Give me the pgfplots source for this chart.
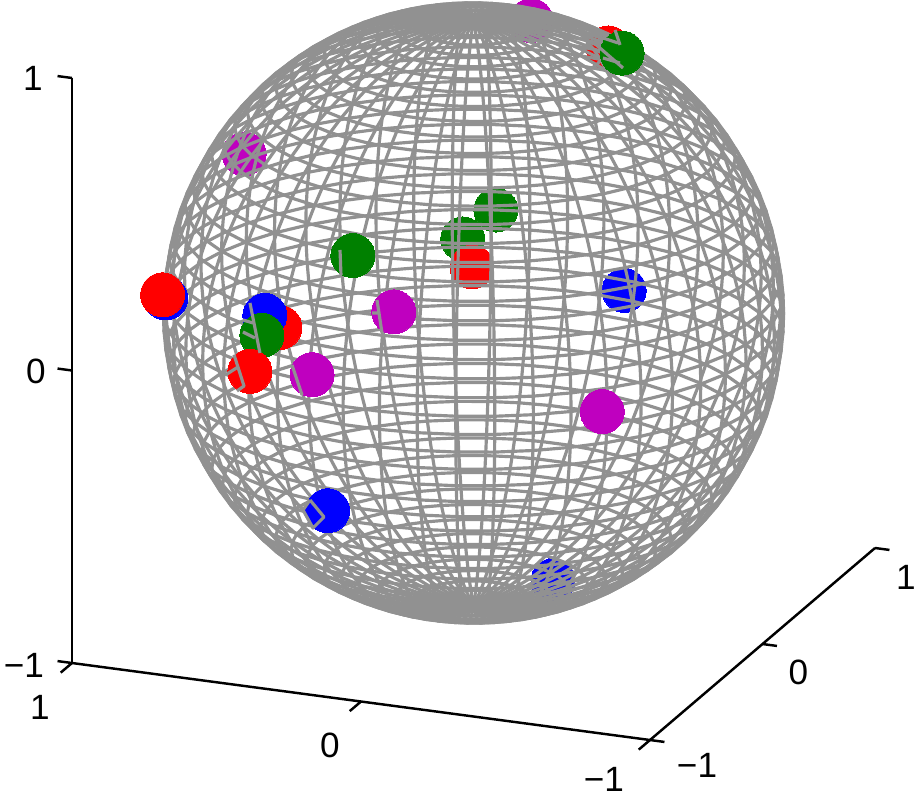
\documentclass[border=0pt]{standalone}
\usepackage{fontspec}
\setmainfont{Liberation Sans}
\usepackage{pgfplots}
\usepackage{pgfplotstable}
\pgfplotsset{compat=1.18}
\definecolor{wire}{RGB}{145,145,145}
\definecolor{mgreen}{RGB}{0,128,0}
\definecolor{mpurple}{RGB}{191,0,191}
% meridian profile: radius and height at latitudes -90, -86.4, ... 90
\pgfplotstableread{
r z
0 -1
.0628 -.9980
.1253 -.9921
.1874 -.9823
.2487 -.9686
.3090 -.9511
.3681 -.9298
.4258 -.9048
.4818 -.8763
.5358 -.8443
.5878 -.8090
.6374 -.7705
.6845 -.7290
.7290 -.6845
.7705 -.6374
.8090 -.5878
.8443 -.5358
.8763 -.4818
.9048 -.4258
.9298 -.3681
.9511 -.3090
.9686 -.2487
.9823 -.1874
.9921 -.1253
.9980 -.0628
1 0
.9980 .0628
.9921 .1253
.9823 .1874
.9686 .2487
.9511 .3090
.9298 .3681
.9048 .4258
.8763 .4818
.8443 .5358
.8090 .5878
.7705 .6374
.7290 .6845
.6845 .7290
.6374 .7705
.5878 .8090
.5358 .8443
.4818 .8763
.4258 .9048
.3681 .9298
.3090 .9511
.2487 .9686
.1874 .9823
.1253 .9921
.0628 .9980
0 1
}\profile
% unit circle at longitudes 0, 7.2, ... 360
\pgfplotstableread{
c s
1 0
.9921 .1253
.9686 .2487
.9298 .3681
.8763 .4818
.8090 .5878
.7290 .6845
.6374 .7705
.5358 .8443
.4258 .9048
.3090 .9511
.1874 .9823
.0628 .9980
-.0628 .9980
-.1874 .9823
-.3090 .9511
-.4258 .9048
-.5358 .8443
-.6374 .7705
-.7290 .6845
-.8090 .5878
-.8763 .4818
-.9298 .3681
-.9686 .2487
-.9921 .1253
-1 0
-.9921 -.1253
-.9686 -.2487
-.9298 -.3681
-.8763 -.4818
-.8090 -.5878
-.7290 -.6845
-.6374 -.7705
-.5358 -.8443
-.4258 -.9048
-.3090 -.9511
-.1874 -.9823
-.0628 -.9980
.0628 -.9980
.1874 -.9823
.3090 -.9511
.4258 -.9048
.5358 -.8443
.6374 -.7705
.7290 -.6845
.8090 -.5878
.8763 -.4818
.9298 -.3681
.9686 -.2487
.9921 -.1253
1 0
}\circletab
\newcommand\mer[2]{\addplot3[wirest] table[x expr={\thisrow{r}*(#1)},y expr={\thisrow{r}*(#2)},z=z]{\profile};}
\newcommand\lat[2]{\addplot3[wirest] table[x index=0,y index=1,z index=1,x expr={\thisrow{c}*(#1)},y expr={\thisrow{s}*(#1)},z expr={#2}]{\circletab};}
\newcommand\tick[6]{\addplot3[black,line width=0.7pt] coordinates {(#1,#2,#3) (#4,#5,#6)};}
\pgfplotsset{wirest/.style={wire,line width=0.9pt,no marks,line join=round},
 ball/.style={only marks,mark=*,mark size=2.2mm,color=#1,mark options={draw=#1,fill=#1,line width=0pt}},
 sph/.style={x={(-2.89cm,0.385cm)},y={(1.125cm,0.96cm)},z={(0cm,2.925cm)},
 xmin=-1,xmax=1,ymin=-1,ymax=1,zmin=-1,zmax=1,
 hide axis,clip=false,
 every node/.style={font=\fontsize{12}{14}\selectfont}}}
\begin{document}
\begin{tikzpicture}
% markers behind the sphere's wires
\begin{axis}[sph]
\addplot3[ball=mgreen] coordinates {(-.349,-.698,.627) (-.271,-.792,.549)};
\addplot3[ball=red] coordinates {(-.397,.178,.900) (-.316,-.825,.470)};
\addplot3[ball=blue] coordinates {(-.742,-.567,.361) (-.494,-.562,-.665)};
\addplot3[ball=mpurple] coordinates {(-.154,.116,.982) (.599,-.500,.629)};
\end{axis}
\begin{axis}[sph]
% meridians
\mer{1}{0}\mer{.9921}{.1253}\mer{.9686}{.2487}\mer{.9298}{.3681}\mer{.8763}{.4818}
\mer{.8090}{.5878}\mer{.7290}{.6845}\mer{.6374}{.7705}\mer{.5358}{.8443}\mer{.4258}{.9048}
\mer{.3090}{.9511}\mer{.1874}{.9823}\mer{.0628}{.9980}\mer{-.0628}{.9980}\mer{-.1874}{.9823}
\mer{-.3090}{.9511}\mer{-.4258}{.9048}\mer{-.5358}{.8443}\mer{-.6374}{.7705}\mer{-.7290}{.6845}
\mer{-.8090}{.5878}\mer{-.8763}{.4818}\mer{-.9298}{.3681}\mer{-.9686}{.2487}\mer{-.9921}{.1253}
\mer{-1}{0}\mer{-.9921}{-.1253}\mer{-.9686}{-.2487}\mer{-.9298}{-.3681}\mer{-.8763}{-.4818}
\mer{-.8090}{-.5878}\mer{-.7290}{-.6845}\mer{-.6374}{-.7705}\mer{-.5358}{-.8443}\mer{-.4258}{-.9048}
\mer{-.3090}{-.9511}\mer{-.1874}{-.9823}\mer{-.0628}{-.9980}\mer{.0628}{-.9980}\mer{.1874}{-.9823}
\mer{.3090}{-.9511}\mer{.4258}{-.9048}\mer{.5358}{-.8443}\mer{.6374}{-.7705}\mer{.7290}{-.6845}
\mer{.8090}{-.5878}\mer{.8763}{-.4818}\mer{.9298}{-.3681}\mer{.9686}{-.2487}\mer{.9921}{-.1253}
% latitude circles
\lat{.0628}{-.9980}\lat{.1253}{-.9921}\lat{.1874}{-.9823}\lat{.2487}{-.9686}\lat{.3090}{-.9511}
\lat{.3681}{-.9298}\lat{.4258}{-.9048}\lat{.4818}{-.8763}\lat{.5358}{-.8443}\lat{.5878}{-.8090}
\lat{.6374}{-.7705}\lat{.6845}{-.7290}\lat{.7290}{-.6845}\lat{.7705}{-.6374}\lat{.8090}{-.5878}
\lat{.8443}{-.5358}\lat{.8763}{-.4818}\lat{.9048}{-.4258}\lat{.9298}{-.3681}\lat{.9511}{-.3090}
\lat{.9686}{-.2487}\lat{.9823}{-.1874}\lat{.9921}{-.1253}\lat{.9980}{-.0628}\lat{1}{0}
\lat{.9980}{.0628}\lat{.9921}{.1253}\lat{.9823}{.1874}\lat{.9686}{.2487}\lat{.9511}{.3090}
\lat{.9298}{.3681}\lat{.9048}{.4258}\lat{.8763}{.4818}\lat{.8443}{.5358}\lat{.8090}{.5878}
\lat{.7705}{.6374}\lat{.7290}{.6845}\lat{.6845}{.7290}\lat{.6374}{.7705}\lat{.5878}{.8090}
\lat{.5358}{.8443}\lat{.4818}{.8763}\lat{.4258}{.9048}\lat{.3681}{.9298}\lat{.3090}{.9511}
\lat{.2487}{.9686}\lat{.1874}{.9823}\lat{.1253}{.9921}\lat{.0628}{.9980}
% markers in front
\addplot3[ball=red] coordinates {(.843,.444,-.306)};
\addplot3[ball=blue] coordinates {(.971,-.242,.003) (.879,.403,-.256) (.569,.165,-.805)};
\addplot3[ball=mgreen] coordinates {(-.259,.656,.707) (.694,.710,-.128) (.876,.369,-.313)};
\addplot3[ball=red] coordinates {(.941,-.346,.052) (.877,.265,-.402)};
\addplot3[ball=mpurple] coordinates {(.571,.758,-.320) (.745,.479,-.466) (-.133,.803,-.583)};
\end{axis}
\begin{axis}[sph]
% pieces of wire that pass in front of markers
\addplot3[wirest] coordinates {(.8287,0,-.2516) (.7941,0,-.3541) (.8183,0,-.3744)};
\addplot3[wirest] coordinates {(.8529,0,-.3208) (.8149,0,-.2919)};
\addplot3[wirest] coordinates {(.5657,0,-.7138) (.5173,0,-.7655) (.5554,0,-.8082) (.5900,0,-.7511) (.5657,0,-.7138)};
\addplot3[wirest] coordinates {(.7734,0,-.0676) (.7388,0,-.2340)};
\addplot3[wirest] coordinates {(.7976,0,-.1699) (.7561,0,-.1850)};
\addplot3[wirest] coordinates {(.7976,0,-.1289) (.7630,0,-.1346)};
\addplot3[wirest] coordinates {(.3339,0,.0005) (.3166,0,-.1100)};
\addplot3[wirest] coordinates {(.3512,0,-.0462) (.3304,0,-.0435)};
\addplot3[wirest] coordinates {(.6280,0,-.2604) (.5934,0,-.3585)};
\addplot3[wirest] coordinates {(.4619,0,.1546) (.4585,0,.0696)};
\addplot3[wirest] coordinates {(-.4481,0,.9991) (-.5,0,.9889)};
\addplot3[wirest] coordinates {(-.4135,0,.9809) (-.5173,0,.9057)};
\addplot3[wirest] coordinates {(-.4481,0,.9308) (-.5069,0,.9214)};
\addplot3[wirest] coordinates {(-.4896,0,1.0320) (-.5069,0,.9830)};
% axis lines and ticks
\tick{1}{-1}{-1}{-1}{-1}{-1}
\tick{-1}{-1}{-1}{-1}{1}{-1}
\tick{1}{-1}{-1}{1}{-1}{1}
\tick{1}{-1}{1}{1.05}{-1}{1}\tick{1}{-1}{0}{1.05}{-1}{0}\tick{1}{-1}{-1}{1.05}{-1}{-1}
\tick{1}{-1}{-1}{1}{-1.1}{-1}\tick{0}{-1}{-1}{0}{-1.1}{-1}\tick{-1}{-1}{-1}{-1}{-1.1}{-1}
\tick{-1}{-1}{-1}{-1.05}{-1}{-1}\tick{-1}{0}{-1}{-1.05}{0}{-1}\tick{-1}{1}{-1}{-1.05}{1}{-1}
% tick labels
\node[xshift=-3.9mm] at (axis cs:1,-1,1) {1};
\node[xshift=-3.6mm,yshift=-.1mm] at (axis cs:1,-1,0) {0};
\node[xshift=-4.8mm,yshift=-.2mm] at (axis cs:1,-1,-1) {−1};
\node[xshift=-3.2mm,yshift=-4.4mm] at (axis cs:1,-1,-1) {1};
\node[xshift=-3.1mm,yshift=-4.4mm] at (axis cs:0,-1,-1) {0};
\node[xshift=-4.6mm,yshift=-3.9mm] at (axis cs:-1,-1,-1) {−1};
\node[xshift=4.7mm,yshift=-2.5mm] at (axis cs:-1,-1,-1) {−1};
\node[xshift=3.6mm,yshift=-2.8mm] at (axis cs:-1,0,-1) {0};
\node[xshift=3.1mm,yshift=-2.9mm] at (axis cs:-1,1,-1) {1};
\coordinate (A) at (axis cs:1.6384,0,-1.8601);
\coordinate (B) at (axis cs:-1.5242,0,1.2707);
\end{axis}
\pgfresetboundingbox
\path[use as bounding box] (A) rectangle (B);
\end{tikzpicture}
\end{document}
